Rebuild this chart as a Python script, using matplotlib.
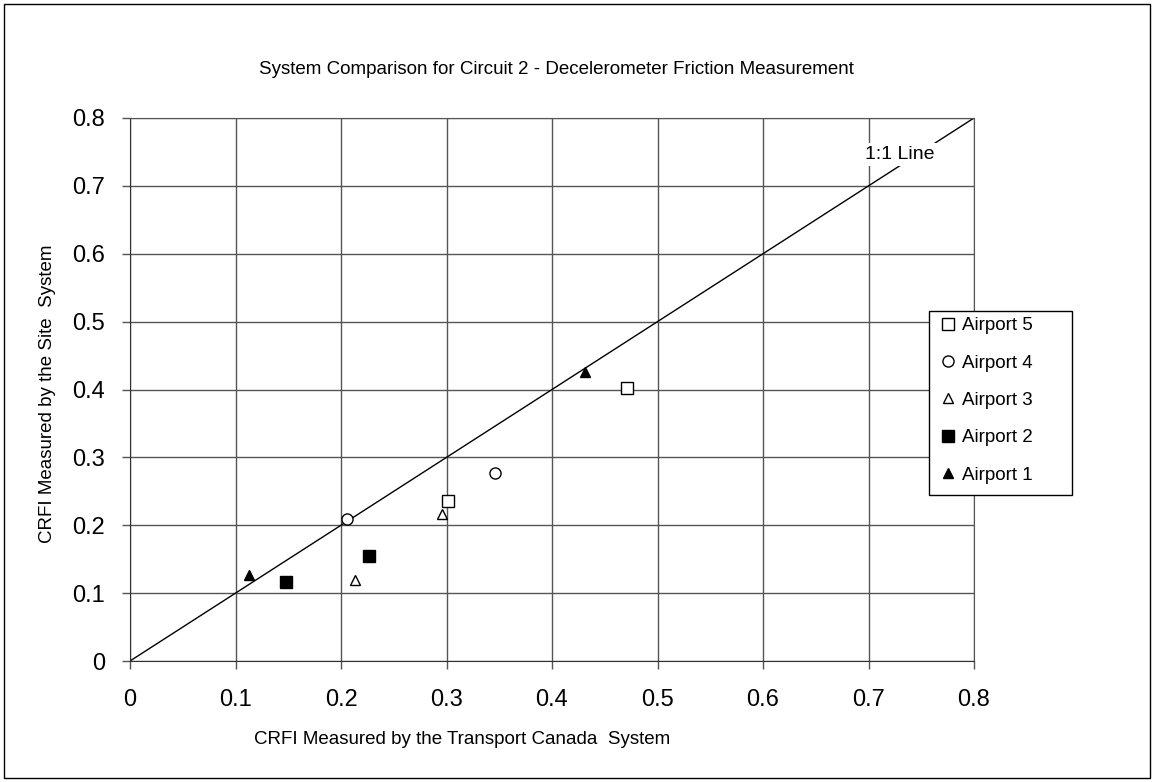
import matplotlib
matplotlib.use("Agg")
import matplotlib.pyplot as plt
from matplotlib.lines import Line2D
from matplotlib.patches import Rectangle

plt.rcParams['font.family'] = ['Liberation Sans', 'DejaVu Sans']

# CRFI readings: Transport Canada system (x) vs site system (y)
airport1_x = [0.113, 0.431]
airport1_y = [0.127, 0.426]
airport2_x = [0.148, 0.227]
airport2_y = [0.117, 0.154]
airport3_x = [0.213, 0.296]
airport3_y = [0.120, 0.217]
airport4_x = [0.206, 0.346]
airport4_y = [0.209, 0.277]
airport5_x = [0.301, 0.471]
airport5_y = [0.235, 0.402]

ticks = [0, 0.1, 0.2, 0.3, 0.4, 0.5, 0.6, 0.7, 0.8]
tick_labels = ['0', '0.1', '0.2', '0.3', '0.4', '0.5', '0.6', '0.7', '0.8']

W, H = 1154, 782
fig = plt.figure(figsize=(W / 100, H / 100), dpi=100)
ax = fig.add_axes([130 / W, 1 - 661 / H, 844 / W, 543 / H])

# figure border
fig.patches.append(Rectangle((4 / W, 4 / H), 1146 / W, 774 / H,
                             transform=fig.transFigure, fill=False,
                             edgecolor='black', linewidth=1.0))

ax.set_xlim(0, 0.8)
ax.set_ylim(0, 0.8)
ax.set_xticks(ticks)
ax.set_yticks(ticks)
ax.set_xticklabels(tick_labels, fontsize=17)
ax.set_yticklabels(tick_labels, fontsize=17)
ax.tick_params(direction='out', length=6, width=1, color='#555555')
ax.tick_params(axis='y', pad=12)
ax.tick_params(axis='x', pad=14)
ax.grid(True, color='#555555', linewidth=1.0)
ax.set_axisbelow(True)
for side in ['top', 'right']:
    ax.spines[side].set_color('#555555')
for side in ['left', 'bottom']:
    ax.spines[side].set_color('#333333')

# 1:1 reference line
ax.plot([0, 0.8], [0, 0.8], color='black', linewidth=1.0, zorder=2)
ax.text(0.73, 0.746, '1:1 Line', fontsize=14, ha='center', va='center',
        bbox=dict(facecolor='white', edgecolor='none', pad=2), zorder=3)

ms = dict(linestyle='none', color='black', markeredgecolor='black', zorder=4)
style5 = dict(marker='s', markersize=8, markerfacecolor='white', markeredgewidth=1.0)
style4 = dict(marker='o', markersize=8, markerfacecolor='white', markeredgewidth=1.0)
style3 = dict(marker='^', markersize=7.5, markerfacecolor='white', markeredgewidth=1.0)
style2 = dict(marker='s', markersize=8.5, markerfacecolor='black')
style1 = dict(marker='^', markersize=7.5, markerfacecolor='black')

ax.plot(airport5_x, airport5_y, **style5, **ms)
ax.plot(airport4_x, airport4_y, **style4, **ms)
ax.plot(airport3_x, airport3_y, **style3, **ms)
ax.plot(airport2_x, airport2_y, **style2, **ms)
ax.plot(airport1_x, airport1_y, **style1, **ms)

# legend: frame drawn separately, entries placed inside it
fig.patches.append(Rectangle((929 / W, 1 - 495 / H), 143 / W, 184 / H,
                             transform=fig.transFigure, facecolor='white',
                             edgecolor='black', linewidth=1.0, zorder=5))
handles = [Line2D([], [], **s, **ms) for s in (style5, style4, style3, style2, style1)]
labels = ['Airport 5', 'Airport 4', 'Airport 3', 'Airport 2', 'Airport 1']
leg = fig.legend(handles, labels, loc='upper left',
                 bbox_to_anchor=(940 / W, 1 - 317 / H),
                 fontsize=13.5, frameon=False, handlelength=0.8,
                 handletextpad=0.4, labelspacing=1.08, borderpad=0,
                 borderaxespad=0)
leg.set_zorder(6)

fig.text(556 / W, 1 - 70 / H,
         'System Comparison for Circuit 2 - Decelerometer Friction Measurement',
         fontsize=13.5, ha='center', va='center')
fig.text(47 / W, 1 - 394 / H, 'CRFI Measured by the Site  System',
         fontsize=13.5, rotation=90, ha='center', va='center')
fig.text(254 / W, 1 - 740 / H, 'CRFI Measured by the Transport Canada  System',
         fontsize=13.5, ha='left', va='center')

fig.savefig('out.png', dpi=100)
